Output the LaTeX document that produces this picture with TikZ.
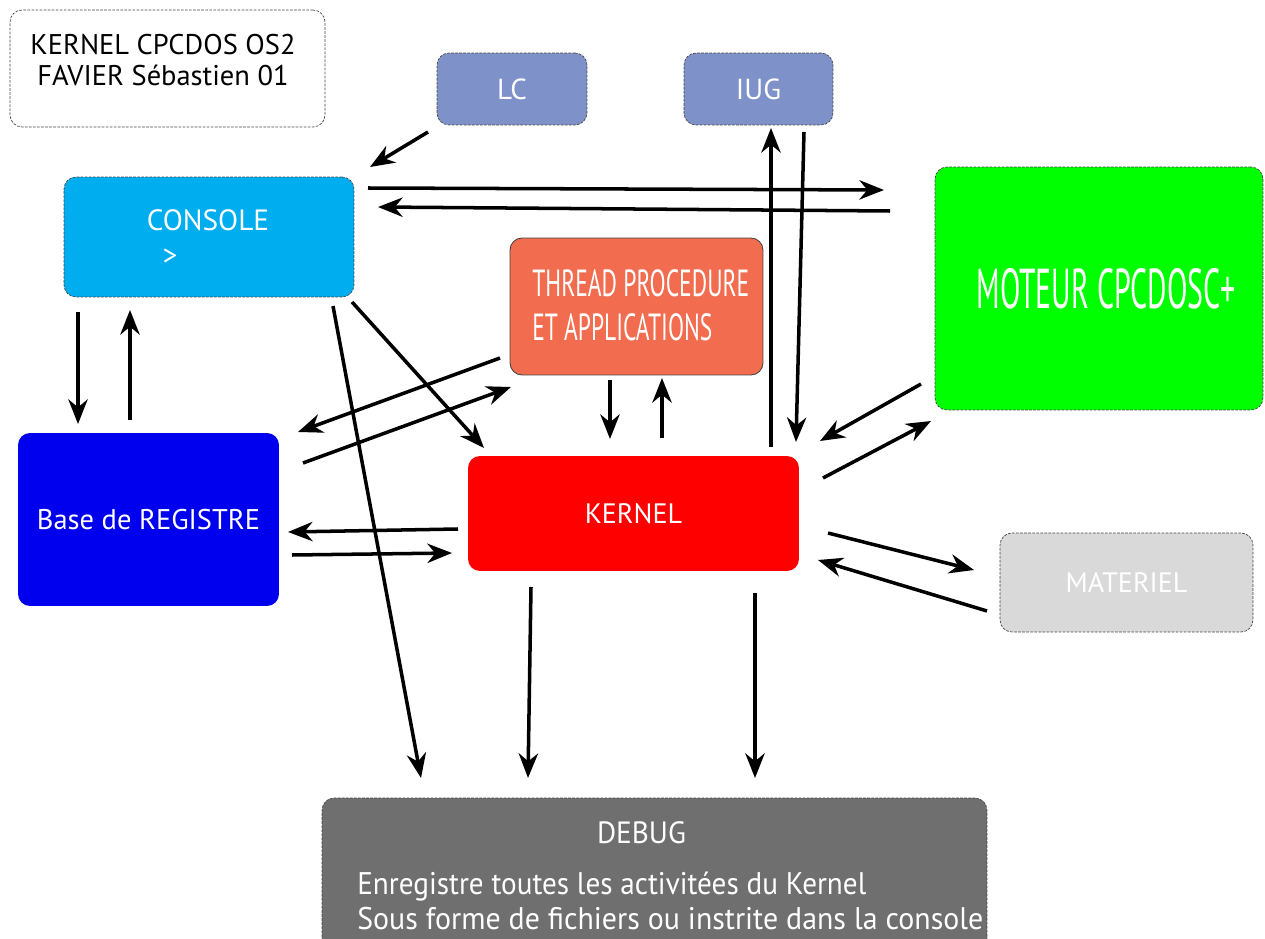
\documentclass[tikz,border=0pt]{standalone}
\usepackage{fontspec}
\usepackage{graphicx}
\setmainfont{PT Sans}
\usetikzlibrary{arrows.meta}
\definecolor{cconsole}{HTML}{00ADEE}
\definecolor{clc}{HTML}{7F91C9}
\definecolor{cthread}{HTML}{F26C4F}
\definecolor{cmoteur}{HTML}{00FF00}
\definecolor{creg}{HTML}{0000EE}
\definecolor{ckernel}{HTML}{FF0000}
\definecolor{cmat}{HTML}{D9D9D9}
\definecolor{cdebug}{HTML}{6F6F6F}
\definecolor{cborder}{HTML}{444444}
\newcommand{\fitw}[2]{\resizebox{#1}{\height}{#2}}
\tikzset{
  box/.style={rectangle, rounded corners=0.24cm, inner sep=0pt, text=white,
    draw=cborder, line width=0.4pt, dash pattern=on 1.5pt off 0.8pt},
  solidbox/.style={rectangle, rounded corners=0.24cm, inner sep=0pt, text=white, draw=none},
  conn/.style={line width=2pt, -{Stealth[length=14pt,width=11pt,inset=4.5pt]}},
  lbl/.style={inner sep=0pt, text=white},
}
\begin{document}
\begin{tikzpicture}[x=0.02cm,y=-0.02cm]
\useasboundingbox (0,0) rectangle (1265,939);
% boxes
\node[box, fill=white, text=black, minimum width=6.3cm, minimum height=2.34cm] (title) at (167.5,68.5) {};
\node[inner sep=0pt, align=center, font=\fontsize{16.2}{18}\selectfont] (titletxt) at (163,60) {KERNEL CPCDOS OS2\\FAVIER Sébastien 01};
\node[box, fill=clc, minimum width=3.0cm, minimum height=1.44cm, font=\fontsize{16.5}{18}\selectfont] (lc) at (512,89) {LC};
\node[box, fill=clc, minimum width=2.98cm, minimum height=1.44cm, font=\fontsize{16.5}{18}\selectfont] (iug) at (758.5,89) {IUG};
\node[box, fill=cconsole, minimum width=5.8cm, minimum height=2.4cm] (console) at (209,237) {};
\node[lbl, font=\fontsize{16.7}{18}\selectfont] (consoletxt) at (208,220) {CONSOLE};
\node[lbl, font=\fontsize{16.7}{18}\selectfont] (prompt) at (170,257) {>};
\node[solidbox, draw=cborder, line width=0.5pt, fill=cthread, minimum width=5.06cm, minimum height=2.74cm] (thread) at (636.5,306.5) {};
\node[lbl, align=left, anchor=west, font=\fontsize{21.5}{25}\selectfont] (threadtxt) at (532,305) {\fitw{4.34cm}{THREAD PROCEDURE}\\\fitw{3.6cm}{ET APPLICATIONS}};
\node[box, fill=cmoteur, minimum width=6.56cm, minimum height=4.86cm] (moteur) at (1099,288.5) {};
\node[lbl, font=\fontsize{32}{34}\selectfont] (moteurtxt) at (1106,289) {\fitw{5.18cm}{MOTEUR CPCDOSC+}};
\node[solidbox, fill=creg, minimum width=5.22cm, minimum height=3.46cm, font=\fontsize{16.2}{18}\selectfont] (reg) at (148.5,519.5) {Base de REGISTRE};
\node[solidbox, fill=ckernel, minimum width=6.62cm, minimum height=2.3cm, font=\fontsize{16}{18}\selectfont] (kernel) at (633.5,513.5) {KERNEL};
\node[box, fill=cmat, minimum width=5.06cm, minimum height=1.98cm, font=\fontsize{16}{18}\selectfont] (mat) at (1126.5,582.5) {MATERIEL};
\node[box, fill=cdebug, minimum width=13.3cm, minimum height=3.28cm] (debug) at (654.5,880) {};
\node[lbl, font=\fontsize{17.5}{20}\selectfont] (debugtitle) at (641.5,833) {\fitw{1.78cm}{DEBUG}};
\node[lbl, anchor=west, align=left, font=\fontsize{17.8}{20}\selectfont] (debugtxt) at (357,901) {\fitw{10.18cm}{Enregistre toutes les activitées du Kernel}\\\fitw{12.52cm}{Sous forme de fichiers ou instrite dans la console}};
% connector end points
\coordinate (a1s) at (428,132); \coordinate (a1e) at (370,167);
\coordinate (a2s) at (368,188); \coordinate (a2e) at (884,190);
\coordinate (a3s) at (890,211); \coordinate (a3e) at (378,207);
\coordinate (a4s) at (78,312);  \coordinate (a4e) at (78,424);
\coordinate (a5s) at (130,420); \coordinate (a5e) at (130,310);
\coordinate (a6s) at (333,306); \coordinate (a6e) at (421,778);
\coordinate (a7s) at (352,302); \coordinate (a7e) at (484,448);
\coordinate (a8s) at (500,358); \coordinate (a8e) at (298,432);
\coordinate (a9s) at (303,463); \coordinate (a9e) at (511,387);
\coordinate (a10s) at (610,380); \coordinate (a10e) at (610,439);
\coordinate (a11s) at (662,438); \coordinate (a11e) at (662,378);
\coordinate (a12s) at (771,447); \coordinate (a12e) at (771,128);
\coordinate (a13s) at (804,132); \coordinate (a13e) at (796,442);
\coordinate (a14s) at (921,384); \coordinate (a14e) at (820,441);
\coordinate (a15s) at (823,478); \coordinate (a15e) at (931,421);
\coordinate (a16s) at (458,529); \coordinate (a16e) at (288,532);
\coordinate (a17s) at (292,555); \coordinate (a17e) at (452,553);
\coordinate (a18s) at (828,533); \coordinate (a18e) at (974,570);
\coordinate (a19s) at (987,611); \coordinate (a19e) at (818,560);
\coordinate (a20s) at (531,587); \coordinate (a20e) at (528,778);
\coordinate (a21s) at (755,593); \coordinate (a21e) at (755,778);
\foreach \i in {1,...,21} {\draw[conn] (a\i s) -- (a\i e);}
\end{tikzpicture}
\end{document}
